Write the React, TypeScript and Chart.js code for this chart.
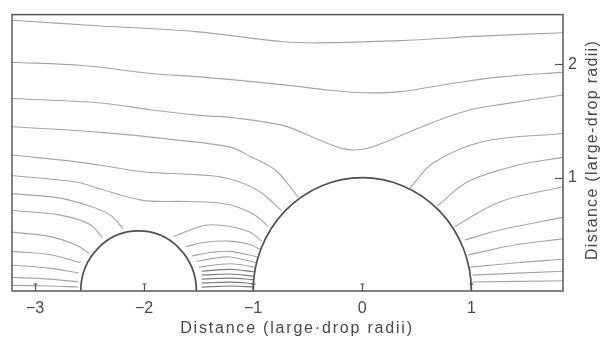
import React, { useEffect, useRef } from "react";
import { Chart, registerables } from "chart.js";

Chart.register(...registerables);

// ---- axis data ----
const xTickValues = [-3, -2, -1, 0, 1];
const xTickLabels = ["−3", "−2", "−1", "0", "1"];
const yTickValues = [1, 2];
const yTickLabels = ["1", "2"];
const xTitle = "Distance (large·drop radii)";
const yTitle = "Distance (large-drop radii)";
const xRange = [-3.21, 1.84];
const yRange = [0, 2.44];

// ---- drops (centre on the axis, radius) ----
const dropCentersX = [-2.05, 0];
const dropRadii = [0.53, 1.0];

// ---- streamlines, [x, y] in large-drop radii ----
const streamA = [[-3.21, 2.39], [-2.4, 2.34], [-1.53, 2.29], [-0.72, 2.2], [-0.41, 2.19], [0.35, 2.21], [1.08, 2.25], [1.84, 2.28]];
const streamB = [[-3.21, 2.02], [-2.56, 1.99], [-1.94, 1.92], [-1.49, 1.89], [-0.72, 1.82], [-0.27, 1.77], [0.01, 1.75], [0.35, 1.76], [0.81, 1.83], [1.27, 1.89], [1.84, 1.93]];
const streamC = [[-3.21, 1.7], [-2.4, 1.66], [-1.94, 1.6], [-1.49, 1.55], [-1.18, 1.53], [-0.72, 1.46], [-0.41, 1.34], [-0.14, 1.25], [0.05, 1.26], [0.35, 1.37], [0.65, 1.49], [0.99, 1.6], [1.29, 1.65], [1.84, 1.73]];
const streamD = [[-3.21, 1.45], [-2.4, 1.4], [-1.67, 1.33], [-1.21, 1.27], [-1.03, 1.19], [-0.8, 1.07], [-0.66, 0.92], [-0.59, 0.83]];
const streamE = [[-3.21, 1.2], [-2.61, 1.14], [-2.4, 1.11], [-1.99, 1.05], [-1.58, 1.03], [-1.26, 1.0], [-0.96, 0.89], [-0.74, 0.71]];
const streamF = [[-3.21, 1.02], [-2.61, 0.96], [-2.4, 0.9], [-2.01, 0.8], [-1.61, 0.79], [-1.26, 0.77], [-1.0, 0.68], [-0.86, 0.57]];
const streamG = [[-3.21, 0.86], [-2.77, 0.82], [-2.5, 0.75], [-2.31, 0.67], [-2.19, 0.55]];
const streamH = [[-3.21, 0.71], [-2.77, 0.67], [-2.5, 0.59], [-2.38, 0.47]];
const streamI = [[-3.21, 0.52], [-2.86, 0.48], [-2.63, 0.41], [-2.5, 0.33]];
const streamJ = [[-3.21, 0.35], [-2.86, 0.32], [-2.58, 0.25]];
const streamK = [[-3.21, 0.23], [-2.86, 0.2], [-2.6, 0.16]];
const streamL = [[-3.21, 0.12], [-2.86, 0.105], [-2.6, 0.08]];
const streamM = [[-3.21, 0.05], [-2.86, 0.044], [-2.6, 0.035]];
const streamN = [[-1.73, 0.48], [-1.44, 0.58], [-1.21, 0.57], [-1.03, 0.52], [-0.92, 0.44]];
const streamO = [[-1.62, 0.39], [-1.44, 0.43], [-1.21, 0.44], [-1.03, 0.41], [-0.94, 0.37]];
const streamP = [[-1.56, 0.31], [-1.39, 0.34], [-1.21, 0.35], [-0.96, 0.3]];
const streamQ = [[-1.52, 0.26], [-1.35, 0.29], [-1.21, 0.3], [-0.97, 0.25]];
const streamR = [[-1.5, 0.21], [-1.21, 0.24], [-0.98, 0.21]];
const streamS = [[-1.47, 0.175], [-1.21, 0.19], [-0.99, 0.17]];
const streamT = [[-1.47, 0.14], [-1.21, 0.15], [-0.99, 0.13]];
const streamU = [[-1.47, 0.105], [-1.21, 0.114], [-0.99, 0.1]];
const streamV = [[-1.47, 0.07], [-1.21, 0.079], [-0.99, 0.065]];
const streamW = [[-1.47, 0.035], [-1.21, 0.044], [-0.99, 0.035]];
const streamR2 = [[0.44, 0.91], [0.65, 1.13], [1.11, 1.32], [1.84, 1.39]];
const streamR3 = [[0.69, 0.75], [0.96, 0.96], [1.42, 1.11], [1.84, 1.18]];
const streamR4 = [[0.85, 0.57], [1.27, 0.79], [1.84, 0.92]];
const streamR5 = [[0.94, 0.45], [1.27, 0.54], [1.84, 0.65]];
const streamR6 = [[0.97, 0.32], [1.42, 0.41], [1.84, 0.46]];
const streamR7 = [[0.99, 0.21], [1.42, 0.25], [1.84, 0.28]];
const streamR8 = [[1.01, 0.14], [1.84, 0.175]];
const streamR9 = [[1.01, 0.08], [1.84, 0.09]];

const lightLines = [
  streamA, streamB, streamC, streamD, streamE, streamF, streamG, streamH, streamI,
  streamJ, streamK, streamL, streamM, streamN, streamO, streamP, streamQ, streamR,
  streamR2, streamR3, streamR4, streamR5, streamR6, streamR7, streamR8, streamR9,
];
const darkLines = [streamS, streamT, streamU, streamV, streamW];

const FONT = "'Liberation Sans', Arial, sans-serif";
const TEXT = "#4a4a4a";

const framePlugin = {
  id: "frameAndDrops",
  afterDatasetsDraw(chart: any) {
    const { ctx, chartArea: a, scales } = chart;
    const x = scales.x;
    const y = scales.y;
    ctx.save();
    // drops
    dropCentersX.forEach((cx, i) => {
      const px = x.getPixelForValue(cx);
      const py = y.getPixelForValue(0);
      const rx = x.getPixelForValue(cx + dropRadii[i]) - px;
      const ry = py - y.getPixelForValue(dropRadii[i]);
      ctx.beginPath();
      ctx.ellipse(px, py, rx, ry, 0, Math.PI, 2 * Math.PI);
      ctx.fillStyle = "#ffffff";
      ctx.fill();
      ctx.strokeStyle = "#505050";
      ctx.lineWidth = 1.7;
      ctx.stroke();
    });
    // frame
    ctx.strokeStyle = "#5a5a5a";
    ctx.lineWidth = 1.5;
    ctx.strokeRect(a.left, a.top, a.right - a.left, a.bottom - a.top);
    // inner tick marks
    ctx.lineWidth = 1.2;
    ctx.strokeStyle = "#505050";
    xTickValues.forEach((v) => {
      const px = Math.round(x.getPixelForValue(v)) + 0.5;
      ctx.beginPath();
      ctx.moveTo(px, a.bottom);
      ctx.lineTo(px, a.bottom - 7);
      ctx.moveTo(px - 2, a.bottom - 7);
      ctx.lineTo(px + 2, a.bottom - 7);
      ctx.stroke();
    });
    yTickValues.forEach((v) => {
      const py = Math.round(y.getPixelForValue(v)) + 0.5;
      ctx.beginPath();
      ctx.moveTo(a.right, py);
      ctx.lineTo(a.right - 8, py);
      ctx.stroke();
    });
    // axis titles
    ctx.fillStyle = TEXT;
    ctx.font = `16px ${FONT}`;
    ctx.textAlign = "center";
    ctx.textBaseline = "middle";
    (ctx as any).letterSpacing = "1.8px";
    ctx.fillText(xTitle, 297, 329);
    ctx.translate(593, 150);
    ctx.rotate(-Math.PI / 2);
    (ctx as any).letterSpacing = "1.3px";
    ctx.fillText(yTitle, 0, 0);
    ctx.restore();
  },
};

export default function App() {
  const ref = useRef<HTMLCanvasElement | null>(null);
  useEffect(() => {
    document.body.style.margin = "0";
    const canvas = ref.current;
    if (!canvas) return;
    const mk = (pts: number[][], color: string, w: number) => ({
      data: pts.map(([px, py]) => ({ x: px, y: py })),
      showLine: true,
      borderColor: color,
      borderWidth: w,
      pointRadius: 0,
      tension: 0.35,
      fill: false,
    });
    const datasets = [
      ...lightLines.map((p) => mk(p, "#a6a6a6", 1.1)),
      ...darkLines.map((p) => mk(p, "#7c7c7c", 1.2)),
    ];
    const chart = new Chart(canvas, {
      type: "scatter",
      data: { datasets },
      options: {
        animation: false,
        responsive: false,
        layout: { padding: { left: 12, top: 14, right: 0, bottom: 0 } },
        plugins: { legend: { display: false }, tooltip: { enabled: false } },
        scales: {
          x: {
            type: "linear",
            position: "bottom",
            min: xRange[0],
            max: xRange[1],
            grid: { display: false, drawTicks: false },
            border: { display: false },
            afterBuildTicks: (s: any) => {
              s.ticks = xTickValues.map((v) => ({ value: v }));
            },
            afterFit: (s: any) => {
              s.height = 48;
            },
            ticks: {
              padding: 8,
              maxRotation: 0,
              autoSkip: false,
              color: TEXT,
              font: { family: FONT, size: 16 },
              callback: (v: any) => {
                const i = xTickValues.indexOf(Number(v));
                return i >= 0 ? xTickLabels[i] : "";
              },
            },
          },
          y: {
            type: "linear",
            position: "right",
            min: yRange[0],
            max: yRange[1],
            grid: { display: false, drawTicks: false },
            border: { display: false },
            afterBuildTicks: (s: any) => {
              s.ticks = yTickValues.map((v) => ({ value: v }));
            },
            afterFit: (s: any) => {
              s.width = 40;
            },
            ticks: {
              padding: 5,
              autoSkip: false,
              color: TEXT,
              font: { family: FONT, size: 16 },
              callback: (v: any) => {
                const i = yTickValues.indexOf(Number(v));
                return i >= 0 ? yTickLabels[i] : "";
              },
            },
          },
        },
      },
      plugins: [framePlugin],
    });
    return () => chart.destroy();
  }, []);
  return (
    <div style={{ width: 603, height: 339 }}>
      <canvas ref={ref} width={603} height={339} style={{ display: "block" }} />
    </div>
  );
}
